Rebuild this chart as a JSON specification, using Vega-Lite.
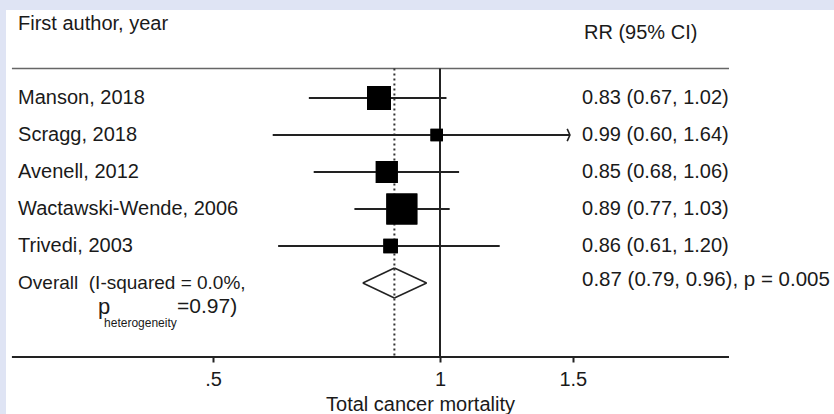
{
  "$schema": "https://vega.github.io/schema/vega-lite/v6.json",
  "width": 828,
  "height": 347,
  "autosize": {"type": "none"},
  "padding": {"left": 6, "top": 10, "right": 0, "bottom": 57},
  "background": "#dfe4f4",
  "config": {
    "view": {"stroke": null, "fill": null},
    "font": "Liberation Sans",
    "text": {"font": "Liberation Sans"}
  },
  "datasets": {
    "studies": [
      {"study": "Manson, 2018", "row": 1, "rr": 0.83, "lo": 0.67, "hi": 1.02, "weight": 24.1, "ci": "0.83 (0.67, 1.02)"},
      {"study": "Scragg, 2018", "row": 2, "rr": 0.99, "lo": 0.60, "hi": 1.64, "weight": 6.5, "ci": "0.99 (0.60, 1.64)"},
      {"study": "Avenell, 2012", "row": 3, "rr": 0.85, "lo": 0.68, "hi": 1.06, "weight": 20.3, "ci": "0.85 (0.68, 1.06)"},
      {"study": "Wactawski-Wende, 2006", "row": 4, "rr": 0.89, "lo": 0.77, "hi": 1.03, "weight": 40.3, "ci": "0.89 (0.77, 1.03)"},
      {"study": "Trivedi, 2003", "row": 5, "rr": 0.86, "lo": 0.61, "hi": 1.20, "weight": 8.8, "ci": "0.86 (0.61, 1.20)"}
    ],
    "pooled": [
      {"label": "Overall\u00a0 (I-squared = 0.0%,", "row": 6, "rr": 0.87, "lo": 0.79, "hi": 0.96, "ci": "0.87 (0.79, 0.96), p = 0.005", "p_het": "=0.97)"}
    ]
  },
  "data": {"name": "studies"},
  "layer": [
    {
      "data": {"name": "pooled"},
      "mark": {"type": "rect", "color": "white", "opacity": 1},
      "encoding": {
        "x": {"datum": 0.26575, "type": "quantitative"},
        "x2": {"datum": 3.33025},
        "y": {"datum": -1.3784, "type": "quantitative", "axis": null},
        "y2": {"datum": 9.7}
      }
    },
    {
      "mark": {"type": "point", "shape": "square", "filled": true, "color": "black", "opacity": 1, "strokeWidth": 0},
      "encoding": {
        "x": {
          "field": "rr", "type": "quantitative",
          "scale": {"type": "log", "domain": [0.26575, 3.33025], "nice": false, "zero": false},
          "axis": {
            "values": [0.5, 1, 1.5],
            "format": "~g",
            "labelExpr": "datum.value == 0.5 ? '.5' : datum.label",
            "title": "Total cancer mortality",
            "domain": false,
            "grid": false,
            "ticks": true,
            "tickSize": 5,
            "tickWidth": 2,
            "tickColor": "#222",
            "labelPadding": 7,
            "labelFontSize": 20,
            "labelFont": "Liberation Sans",
            "labelColor": "#1a1a1a",
            "labelFlush": false,
            "labelOverlap": false,
            "titlePadding": 5,
            "titleFontSize": 20,
            "titleFont": "Liberation Sans",
            "titleFontWeight": "normal",
            "titleColor": "#1a1a1a",
            "zindex": 1
          }
        },
        "y": {
          "field": "row", "type": "quantitative",
          "scale": {"domain": [-1.3784, 8], "reverse": true, "nice": false, "zero": false},
          "axis": null
        },
        "size": {"field": "weight", "type": "quantitative", "scale": {"type": "linear", "domain": [0, 100], "range": [0, 2387]}, "legend": null}
      }
    },
    {
      "data": {"name": "pooled"},
      "mark": {"type": "rule", "color": "#222", "strokeWidth": 2},
      "encoding": {
        "x": {"datum": 0.2706, "type": "quantitative"},
        "x2": {"datum": 2.4167},
        "y": {"datum": 8, "type": "quantitative", "axis": null}
      }
    },
    {
      "data": {"name": "pooled"},
      "mark": {"type": "rule", "color": "#666", "strokeWidth": 1.5},
      "encoding": {
        "x": {"datum": 0.2706, "type": "quantitative"},
        "x2": {"datum": 2.4167},
        "y": {"datum": 0.2, "type": "quantitative", "axis": null}
      }
    },
    {
      "data": {"name": "pooled"},
      "mark": {"type": "rule", "color": "#222", "strokeWidth": 2},
      "encoding": {
        "x": {"datum": 1, "type": "quantitative"},
        "y": {"datum": 0.2, "type": "quantitative", "axis": null},
        "y2": {"datum": 8}
      }
    },
    {
      "data": {"name": "pooled"},
      "mark": {"type": "rule", "color": "#333", "strokeWidth": 2, "strokeDash": [2, 3]},
      "encoding": {
        "x": {"field": "rr", "type": "quantitative"},
        "y": {"datum": 0.2, "type": "quantitative", "axis": null},
        "y2": {"datum": 8}
      }
    },
    {
      "transform": [{"calculate": "min(datum.hi, 1.487)", "as": "hi_shown"}],
      "mark": {"type": "rule", "color": "#222", "strokeWidth": 2},
      "encoding": {
        "x": {"field": "lo", "type": "quantitative"},
        "x2": {"field": "hi_shown"},
        "y": {"field": "row", "type": "quantitative", "axis": null}
      }
    },
    {
      "transform": [
        {"calculate": "min(datum.hi, 1.487)", "as": "hi_shown"},
        {"filter": "datum.hi > datum.hi_shown"}
      ],
      "mark": {"type": "point", "shape": "M-0.45,-1L0,0L-0.45,1", "filled": false, "stroke": "#222", "strokeWidth": 1.6, "size": 150, "opacity": 1},
      "encoding": {
        "x": {"field": "hi_shown", "type": "quantitative"},
        "y": {"field": "row", "type": "quantitative", "axis": null}
      }
    },
    {
      "mark": {"type": "point", "shape": "square", "filled": true, "color": "black", "opacity": 1, "strokeWidth": 0},
      "encoding": {
        "x": {"field": "rr", "type": "quantitative"},
        "y": {"field": "row", "type": "quantitative", "axis": null},
        "size": {"field": "weight", "type": "quantitative", "legend": null}
      }
    },
    {
      "data": {"name": "pooled"},
      "mark": {"type": "rule", "color": "#222", "strokeWidth": 1.5},
      "encoding": {
        "x": {"field": "lo", "type": "quantitative"},
        "x2": {"field": "rr"},
        "y": {"datum": 6, "type": "quantitative", "axis": null},
        "y2": {"datum": 5.595}
      }
    },
    {
      "data": {"name": "pooled"},
      "mark": {"type": "rule", "color": "#222", "strokeWidth": 1.5},
      "encoding": {
        "x": {"field": "rr", "type": "quantitative"},
        "x2": {"field": "hi"},
        "y": {"datum": 5.595, "type": "quantitative", "axis": null},
        "y2": {"datum": 6}
      }
    },
    {
      "data": {"name": "pooled"},
      "mark": {"type": "rule", "color": "#222", "strokeWidth": 1.5},
      "encoding": {
        "x": {"field": "hi", "type": "quantitative"},
        "x2": {"field": "rr"},
        "y": {"datum": 6, "type": "quantitative", "axis": null},
        "y2": {"datum": 6.405}
      }
    },
    {
      "data": {"name": "pooled"},
      "mark": {"type": "rule", "color": "#222", "strokeWidth": 1.5},
      "encoding": {
        "x": {"field": "rr", "type": "quantitative"},
        "x2": {"field": "lo"},
        "y": {"datum": 6.405, "type": "quantitative", "axis": null},
        "y2": {"datum": 6}
      }
    },
    {
      "mark": {"type": "text", "align": "left", "baseline": "middle", "fontSize": 20, "color": "#1a1a1a"},
      "encoding": {
        "x": {"datum": 0.2757, "type": "quantitative"},
        "y": {"field": "row", "type": "quantitative", "axis": null},
        "text": {"field": "study"}
      }
    },
    {
      "mark": {"type": "text", "align": "left", "baseline": "middle", "fontSize": 20, "color": "#1a1a1a"},
      "encoding": {
        "x": {"datum": 1.5428, "type": "quantitative"},
        "y": {"field": "row", "type": "quantitative", "axis": null},
        "text": {"field": "ci"}
      }
    },
    {
      "data": {"name": "pooled"},
      "mark": {"type": "text", "align": "left", "baseline": "middle", "fontSize": 19, "color": "#1a1a1a"},
      "encoding": {
        "x": {"datum": 0.2757, "type": "quantitative"},
        "y": {"field": "row", "type": "quantitative", "axis": null},
        "text": {"field": "label"}
      }
    },
    {
      "data": {"name": "pooled"},
      "mark": {"type": "text", "align": "left", "baseline": "middle", "fontSize": 20.5, "color": "#1a1a1a", "dy": -3},
      "encoding": {
        "x": {"datum": 1.5428, "type": "quantitative"},
        "y": {"field": "row", "type": "quantitative", "axis": null},
        "text": {"field": "ci"}
      }
    },
    {
      "data": {"name": "pooled"},
      "mark": {"type": "text", "align": "left", "baseline": "middle", "fontSize": 22, "color": "#1a1a1a"},
      "encoding": {
        "x": {"datum": 0.3520, "type": "quantitative"},
        "y": {"datum": 6.65, "type": "quantitative", "axis": null},
        "text": {"value": "p"}
      }
    },
    {
      "data": {"name": "pooled"},
      "mark": {"type": "text", "align": "left", "baseline": "middle", "fontSize": 12, "color": "#1a1a1a"},
      "encoding": {
        "x": {"datum": 0.3585, "type": "quantitative"},
        "y": {"datum": 7.08, "type": "quantitative", "axis": null},
        "text": {"value": "heterogeneity"}
      }
    },
    {
      "data": {"name": "pooled"},
      "mark": {"type": "text", "align": "left", "baseline": "middle", "fontSize": 21, "color": "#1a1a1a"},
      "encoding": {
        "x": {"datum": 0.448, "type": "quantitative"},
        "y": {"datum": 6.65, "type": "quantitative", "axis": null},
        "text": {"field": "p_het"}
      }
    },
    {
      "data": {"name": "pooled"},
      "mark": {"type": "text", "align": "left", "baseline": "middle", "fontSize": 20, "color": "#1a1a1a"},
      "encoding": {
        "x": {"datum": 0.2757, "type": "quantitative"},
        "y": {"datum": -0.99, "type": "quantitative", "axis": null},
        "text": {"value": "First author, year"}
      }
    },
    {
      "data": {"name": "pooled"},
      "mark": {"type": "text", "align": "left", "baseline": "middle", "fontSize": 20, "color": "#1a1a1a"},
      "encoding": {
        "x": {"datum": 1.5523, "type": "quantitative"},
        "y": {"datum": -0.76, "type": "quantitative", "axis": null},
        "text": {"value": "RR (95% CI)"}
      }
    }
  ]
}
